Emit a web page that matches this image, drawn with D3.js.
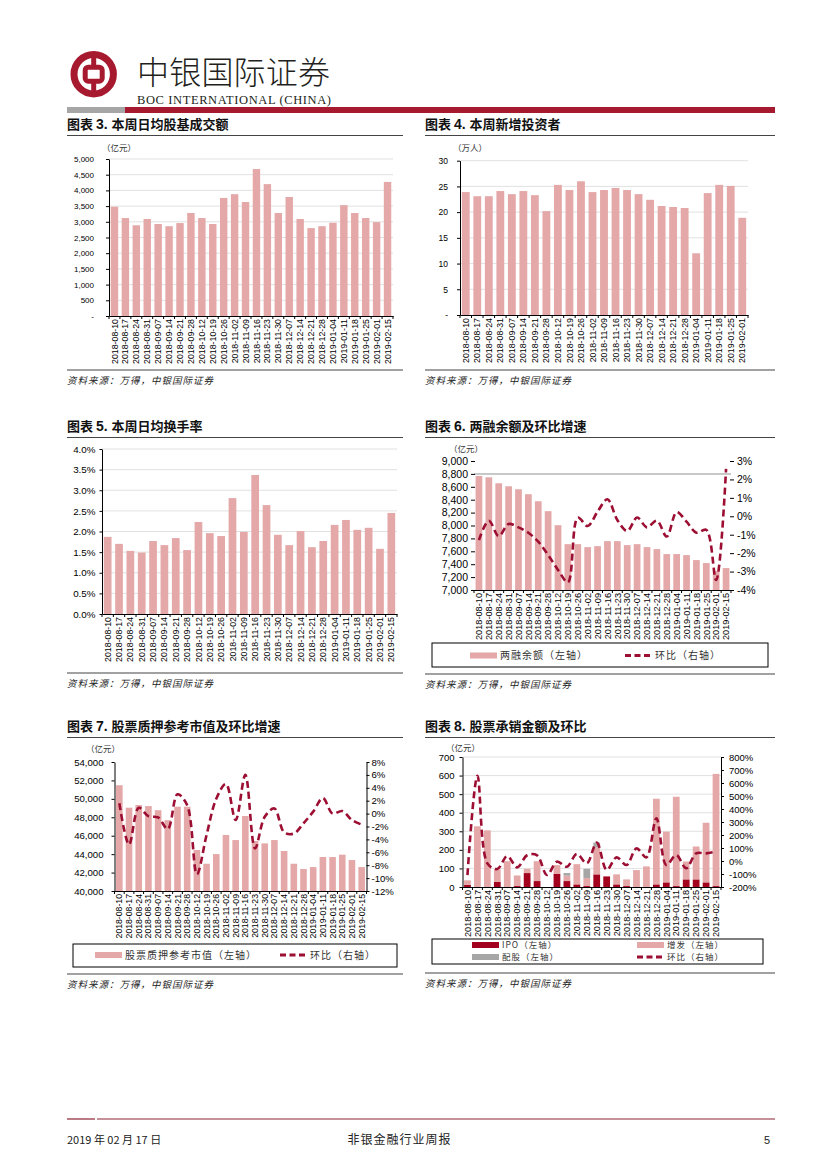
<!DOCTYPE html>
<html><head><meta charset="utf-8">
<script src="https://cdn.jsdelivr.net/npm/d3@7"></script>
<style>body{margin:0;background:#fff}</style>
</head><body><script>
// ---------------- DATA ----------------
const dates = ["2018-08-10","2018-08-17","2018-08-24","2018-08-31","2018-09-07","2018-09-14","2018-09-21","2018-09-28","2018-10-12","2018-10-19","2018-10-26","2018-11-02","2018-11-09","2018-11-16","2018-11-23","2018-11-30","2018-12-07","2018-12-14","2018-12-21","2018-12-28","2019-01-04","2019-01-11","2019-01-18","2019-01-25","2019-02-01","2019-02-15"];
const datesInvestors = ["2018-08-10","2018-08-17","2018-08-24","2018-08-31","2018-09-07","2018-09-14","2018-09-21","2018-09-28","2018-10-12","2018-10-19","2018-10-26","2018-11-02","2018-11-09","2018-11-16","2018-11-23","2018-11-30","2018-12-07","2018-12-14","2018-12-21","2018-12-28","2019-01-04","2019-01-11","2019-01-18","2019-01-25","2019-02-01"];
// 图表3 本周日均股基成交额 (亿元)
const tradingValue = [3480,3120,2890,3090,2930,2860,2960,3280,3120,2930,3760,3880,3630,4680,4200,3280,3790,3090,2800,2860,2970,3530,3280,3120,2990,4270];
const tradingTicks = [0,500,1000,1500,2000,2500,3000,3500,4000,4500,5000];
// 图表4 本周新增投资者 (万人)
const newInvestors = [23.9,23.1,23.1,24.1,23.5,24.1,23.3,20.2,25.3,24.3,26.0,23.9,24.3,24.7,24.3,23.5,22.4,21.2,21.0,20.8,12.0,23.7,25.3,25.1,18.9];
const investorTicks = [0,5,10,15,20,25,30];
// 图表5 本周日均换手率 (%)
const turnoverRate = [1.87,1.70,1.53,1.49,1.77,1.67,1.84,1.55,2.23,1.96,1.89,2.81,1.99,3.37,2.64,1.92,1.67,2.01,1.62,1.77,2.16,2.28,2.04,2.09,1.58,2.45];
const turnoverTicks = [0,0.5,1,1.5,2,2.5,3,3.5,4];
// 图表6 两融余额 (亿元) 及环比 (%)
const marginBalance = [8768,8747,8655,8608,8562,8485,8376,8222,8005,7711,7711,7665,7680,7758,7758,7696,7711,7665,7634,7557,7557,7541,7464,7418,7294,7340];
const marginChange = [-1.29,-0.24,-1.07,-0.42,-0.6,-0.89,-1.38,-2.1,-2.91,-3.58,-0.07,-0.53,0.25,0.92,-0.2,-0.8,-0.07,-0.6,-0.24,-1.1,0.22,-0.29,-0.89,-0.74,-3.46,2.57];
const marginTicksL = [7000,7200,7400,7600,7800,8000,8200,8400,8600,8800,9000];
const marginTicksR = [-4,-3,-2,-1,0,1,2,3];
// 图表7 股票质押参考市值 (亿元) 及环比 (%)
const pledgeValue = [51480,49040,49330,49220,48770,47690,49150,49150,44450,42960,44010,46080,45530,48140,45420,45170,45530,44340,42960,42390,42600,43690,43690,43940,43360,42600];
const pledgeChange = [1.6,-4.8,0.9,-0.4,-0.6,-2.4,3.0,1.3,-9.4,-3.3,2.3,4.6,-1.0,6.0,-5.4,-0.5,0.8,-2.9,-3.1,-1.5,0.3,2.4,0.0,0.4,-1.0,-1.7];
const pledgeTicksL = [40000,42000,44000,46000,48000,50000,52000,54000];
const pledgeTicksR = [-12,-10,-8,-6,-4,-2,0,2,4,6,8];
// 图表8 股票承销金额 (亿元) 及环比 (%)
const ipoAmount = [11,0,0,27,0,5,75,32,0,70,32,14,5,68,57,14,5,0,0,14,25,5,41,41,25,5];
const seoAmount = [25,327,305,68,139,57,23,107,0,48,29,109,43,146,0,54,36,91,111,461,273,481,96,177,321,604];
const rightsAmount = [0,0,0,0,0,0,0,0,0,0,14,0,50,25,0,0,0,0,0,0,0,0,0,0,0,0];
const underwritingChange = [-108,655,-18,-62,38,-49,44,44,-108,-5,-44,54,-18,141,-69,28,-31,97,28,328,-31,46,-56,59,59,72];
const underwritingTicksL = [0,100,200,300,400,500,600,700];
const underwritingTicksR = [-200,-100,0,100,200,300,400,500,600,700,800];

// ---------------- STYLE ----------------
const W=827,H=1169;
const LAT="'Liberation Sans', Arial, sans-serif";
const CJK="'Noto Sans CJK SC', sans-serif";
const PINK="#e5a8a8", DARK="#9c0f33", IPOC="#a3001e", GRAY="#a6a6a6", GRID="#d9d9d9";
const svg=d3.select("body").append("svg").attr("width",W).attr("height",H);

// ---------------- HEADER ----------------
const RED="#a6192e";
svg.append("circle").attr("cx",93.7).attr("cy",74.2).attr("r",19.7).attr("fill","none").attr("stroke",RED).attr("stroke-width",7);
svg.append("line").attr("x1",93.7).attr("x2",93.7).attr("y1",54).attr("y2",95).attr("stroke",RED).attr("stroke-width",5);
svg.append("rect").attr("x",85.2).attr("y",67.2).attr("width",17).attr("height",14).attr("rx",3).attr("fill","#fff").attr("stroke",RED).attr("stroke-width",5);
svg.append("text").attr("x",137).attr("y",84).attr("font-family",CJK).attr("font-weight",300).attr("font-size",32).attr("fill","#231f20").attr("textLength",193).text("中银国际证券");
svg.append("text").attr("x",137).attr("y",104).attr("font-family","'Liberation Serif', serif").attr("font-size",12.5).attr("fill","#231f20").attr("textLength",194).text("BOC INTERNATIONAL (CHINA)");
svg.append("rect").attr("x",67).attr("y",107).attr("width",58).attr("height",6).attr("fill","#a6a6a6");
svg.append("rect").attr("x",125).attr("y",107).attr("width",650).attr("height",6).attr("fill",RED);

// ---------------- HELPERS ----------------
function title(x,y,num,txt,x2){
  const t=svg.append("text").attr("x",x).attr("y",y).attr("font-family",CJK).attr("font-weight",700).attr("font-size",13).attr("fill","#111");
  t.append("tspan").text("图表 ");
  t.append("tspan").attr("font-family",LAT).attr("font-size",14).text(num+". ");
  t.append("tspan").text(txt);
  svg.append("line").attr("x1",x).attr("x2",x2).attr("y1",y+6.5).attr("y2",y+6.5).attr("stroke","#444").attr("stroke-width",1.2);
}
function source(x,lineY,x2){
  svg.append("line").attr("x1",x).attr("x2",x2).attr("y1",lineY).attr("y2",lineY).attr("stroke","#444").attr("stroke-width",1.2);
  svg.append("text").attr("x",x).attr("y",lineY+14).attr("font-family",CJK).attr("font-style","italic").attr("font-size",9.5).attr("letter-spacing",1).attr("fill","#222").text("资料来源：万得，中银国际证券");
}
function unit(x,y,txt){
  svg.append("text").attr("x",x).attr("y",y).attr("font-family",CJK).attr("font-size",8.5).attr("fill","#333").text(txt);
}
function band(cats,l,r){return d3.scaleBand().domain(cats).range([l,r]).paddingInner(0.32).paddingOuter(0.16);}
function xAxis(x,y,fs){
  const g=svg.append("g").attr("transform",`translate(0,${y})`);
  g.call(d3.axisBottom(x).tickSize(0).tickPadding(0).tickSizeOuter(0));
  g.select(".domain").attr("stroke","#000").attr("stroke-width",1);
  g.selectAll(".tick text").attr("transform","rotate(-90)").attr("text-anchor","end")
    .attr("x",-3).attr("y",0).attr("dy","0.35em").attr("font-family",LAT).attr("font-size",fs).attr("fill","#000");
  const [l,r]=x.range(), n=x.domain().length, st=(r-l)/n;
  g.selectAll(".bt").data(d3.range(n+1)).join("line").attr("x1",i=>l+i*st).attr("x2",i=>l+i*st).attr("y1",0).attr("y2",3).attr("stroke","#000");
}
function yAxis(axis,xpos,fs,showDomain){
  const g=svg.append("g").attr("transform",`translate(${xpos},0)`).call(axis);
  if(showDomain) g.select(".domain").attr("stroke","#000"); else g.select(".domain").remove();
  g.selectAll(".tick line").attr("stroke","#000");
  g.selectAll(".tick text").attr("font-family",LAT).attr("font-size",fs).attr("fill","#000");
  return g;
}
function grid(y,ticks,l,r,color,w){
  svg.append("g").selectAll("line").data(ticks).join("line").attr("x1",l).attr("x2",r).attr("y1",d=>y(d)).attr("y2",d=>y(d)).attr("stroke",color||GRID).attr("stroke-width",w||0.8);
}
function bars(x,y,cats,vals,color){
  svg.append("g").selectAll("rect").data(vals).join("rect")
    .attr("x",(d,i)=>x(cats[i])).attr("width",x.bandwidth())
    .attr("y",d=>y(Math.max(d,y.domain()[0]))).attr("height",d=>y(y.domain()[0])-y(Math.max(d,y.domain()[0]))).attr("fill",color);
}
function dline(x,y,cats,vals){
  const ln=d3.line().x((d,i)=>x(cats[i])+x.bandwidth()/2).y(d=>y(d)).curve(d3.curveCatmullRom.alpha(0.5));
  svg.append("path").attr("d",ln(vals)).attr("fill","none").attr("stroke",DARK).attr("stroke-width",2.6).attr("stroke-dasharray","7,4");
}
function legendBox(x1,y1,x2,y2){
  svg.append("rect").attr("x",x1).attr("y",y1).attr("width",x2-x1).attr("height",y2-y1).attr("fill","none").attr("stroke","#000").attr("stroke-width",1);
}
function legSwatch(x,y,color,txt,fs){
  svg.append("rect").attr("x",x).attr("y",y-3).attr("width",27).attr("height",6).attr("fill",color);
  legText(x+30,y+(fs||10)*0.35,txt,fs);
}
function legLine(x,y,txt,fs){
  svg.append("line").attr("x1",x).attr("x2",x+27).attr("y1",y).attr("y2",y).attr("stroke",DARK).attr("stroke-width",3).attr("stroke-dasharray","6,3.5");
  legText(x+30,y+(fs||10)*0.35,txt,fs);
}
function legText(x,y,txt,fs){
  svg.append("text").attr("x",x).attr("y",y).attr("font-family",CJK).attr("font-size",fs||10).attr("letter-spacing",1).attr("fill","#333").text(txt);
}

// ---------------- CHART 3 ----------------
title(67,129,"3","本周日均股基成交额",403);
unit(102,151,"（亿元）");
{
  const x=band(dates,109,393), y=d3.scaleLinear().domain([0,5000]).range([316,159]);
  grid(y,tradingTicks.slice(1),109,393);
  bars(x,y,dates,tradingValue,PINK);
  yAxis(d3.axisLeft(y).tickValues(tradingTicks).tickFormat(d=>d===0?"-":d3.format(",")(d)).tickSize(3).tickPadding(12).tickSizeOuter(0),109,8,true);
  xAxis(x,316,8.8);
}
source(67,370,403);

// ---------------- CHART 4 ----------------
title(425,129,"4","本周新增投资者",775);
unit(453,151,"（万人）");
{
  const x=band(datesInvestors,460,748), y=d3.scaleLinear().domain([0,30]).range([315,160.7]);
  grid(y,investorTicks.slice(1),460,748);
  bars(x,y,datesInvestors,newInvestors,PINK);
  yAxis(d3.axisLeft(y).tickValues(investorTicks).tickFormat(d=>d===0?"-":d).tickSize(3).tickPadding(9).tickSizeOuter(0),460,8.5,true);
  xAxis(x,315,8.8);
}
source(425,370,775);

// ---------------- CHART 5 ----------------
title(67,431,"5","本周日均换手率",403);
{
  const x=band(dates,102,397), y=d3.scaleLinear().domain([0,4]).range([614,449]);
  grid(y,turnoverTicks.slice(1),102,397);
  bars(x,y,dates,turnoverRate,PINK);
  yAxis(d3.axisLeft(y).tickValues(turnoverTicks).tickFormat(d=>d.toFixed(1)+"%").tickSize(2.5).tickPadding(4).tickSizeOuter(0),102,9.8,true);
  xAxis(x,614,8.8);
}
source(67,673,403);

// ---------------- CHART 6 ----------------
title(425,431,"6","两融余额及环比增速",775);
unit(449,452,"（亿元）");
{
  const x=band(dates,474,731), y=d3.scaleLinear().domain([7000,9000]).range([590,461]);
  const yr=d3.scaleLinear().domain([-4,3]).range([590,461]);
  grid(y,[8800],474,731,"#c8c8c8",2);
  bars(x,y,dates,marginBalance,PINK);
  yAxis(d3.axisLeft(y).tickValues(marginTicksL).tickFormat(d3.format(",")).tickSize(4).tickPadding(3).tickSizeOuter(0),475,10.5,false);
  yAxis(d3.axisRight(yr).tickValues(marginTicksR).tickFormat(d=>d+"%").tickSize(4).tickPadding(3).tickSizeOuter(0),730,10.5,false);
  xAxis(x,590,9.2);
  dline(x,yr,dates,marginChange);
}
legendBox(432,643,768,667);
legSwatch(470,655.5,PINK,"两融余额（左轴）");
legLine(625,655.5,"环比（右轴）");
source(425,674,775);

// ---------------- CHART 7 ----------------
title(67,731,"7","股票质押参考市值及环比增速",403);
unit(86,752,"（亿元）");
{
  const x=band(dates,114.5,366.5), y=d3.scaleLinear().domain([40000,54000]).range([891,762]);
  const yr=d3.scaleLinear().domain([-12,8]).range([891,762]);
  bars(x,y,dates,pledgeValue,PINK);
  yAxis(d3.axisLeft(y).tickValues(pledgeTicksL).tickFormat(d3.format(",")).tickSize(3).tickPadding(8).tickSizeOuter(0),114.5,9.6,true);
  yAxis(d3.axisRight(yr).tickValues(pledgeTicksR).tickFormat(d=>d+"%").tickSize(3).tickPadding(2).tickSizeOuter(0),366.5,9.6,true);
  xAxis(x,891,8.7);
  dline(x,yr,dates,pledgeChange);
}
legendBox(73,944,397,967);
legSwatch(95,955,PINK,"股票质押参考市值（左轴）");
legLine(280,955,"环比（右轴）");
source(67,974,403);

// ---------------- CHART 8 ----------------
title(425,731,"8","股票承销金额及环比",775);
unit(446,751,"（亿元）");
{
  const x=band(dates,462.5,721), y=d3.scaleLinear().domain([0,700]).range([887,757]);
  const yr=d3.scaleLinear().domain([-200,800]).range([887,757]);
  grid(y,underwritingTicksL.slice(1),462.5,721);
  const stack=d3.stack().keys(["ipo","seo","rights"])(dates.map((d,i)=>({ipo:ipoAmount[i],seo:seoAmount[i],rights:rightsAmount[i]})));
  const cols={ipo:IPOC,seo:PINK,rights:GRAY};
  stack.forEach(layer=>{
    svg.append("g").selectAll("rect").data(layer).join("rect")
      .attr("x",(d,i)=>x(dates[i])).attr("width",x.bandwidth())
      .attr("y",d=>y(d[1])).attr("height",d=>y(d[0])-y(d[1])).attr("fill",cols[layer.key]);
  });
  yAxis(d3.axisLeft(y).tickValues(underwritingTicksL).tickSize(3).tickPadding(5).tickSizeOuter(0),462.5,9.5,true);
  yAxis(d3.axisRight(yr).tickValues(underwritingTicksR).tickFormat(d=>d+"%").tickSize(3).tickPadding(5).tickSizeOuter(0),721,9.5,true);
  xAxis(x,887,9.2);
  dline(x,yr,dates,underwritingChange);
}
legendBox(432,939,763,964);
legSwatch(472,945,IPOC,"IPO（左轴）",8.5);
legSwatch(637,945,PINK,"增发（左轴）",8.5);
legSwatch(472,957,GRAY,"配股（左轴）",8.5);
legLine(637,957,"环比（右轴）",8.5);
source(425,973,775);

// ---------------- FOOTER ----------------
const FR="#8b2332";
svg.append("line").attr("x1",67).attr("x2",95).attr("y1",1119).attr("y2",1119).attr("stroke",FR).attr("stroke-width",1.2);
svg.append("line").attr("x1",97).attr("x2",775).attr("y1",1119).attr("y2",1119).attr("stroke",FR).attr("stroke-width",1.2);
svg.append("text").attr("x",67).attr("y",1144).attr("font-family",CJK).attr("font-size",11).attr("fill","#222").text("2019 年 02 月 17 日");
svg.append("text").attr("x",399.5).attr("y",1144).attr("text-anchor","middle").attr("font-family",CJK).attr("font-size",12).attr("letter-spacing",1).attr("fill","#222").text("非银金融行业周报");
svg.append("text").attr("x",764).attr("y",1144).attr("font-family",LAT).attr("font-size",11).attr("fill","#222").text("5");
</script></body></html>
